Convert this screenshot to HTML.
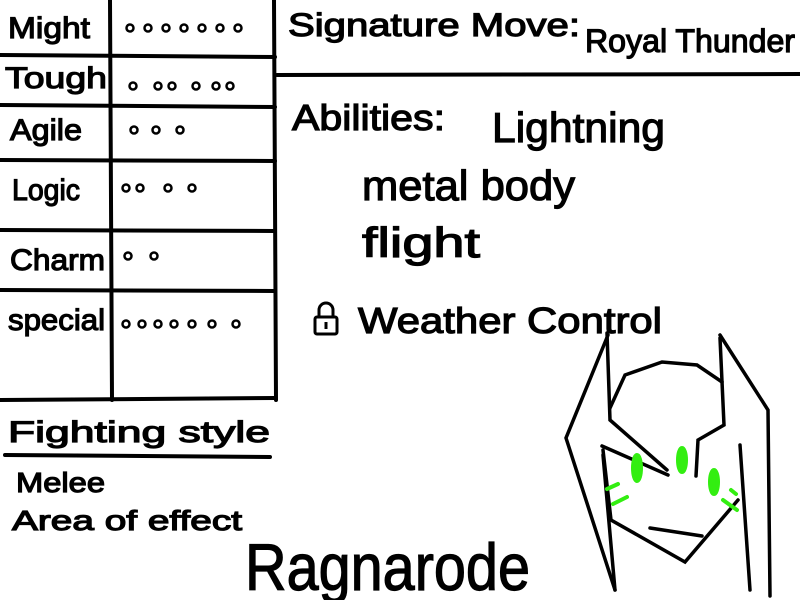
<!DOCTYPE html>
<html><head><style>
html,body{margin:0;padding:0;background:#fff;width:800px;height:600px;overflow:hidden}
svg{display:block}
text{font-family:"Liberation Sans",sans-serif;fill:#000;stroke:#000;stroke-width:1.2}
</style></head><body>
<svg width="800" height="600" viewBox="0 0 800 600" xmlns="http://www.w3.org/2000/svg">
<g stroke="#000" stroke-width="4" fill="none" stroke-linecap="round">
<line x1="110" y1="0" x2="112" y2="400"/>
<line x1="274" y1="0" x2="276" y2="400"/>
<line x1="0" y1="55" x2="275" y2="57"/>
<line x1="0" y1="105" x2="275" y2="107"/>
<line x1="0" y1="160" x2="275" y2="161"/>
<line x1="0" y1="230" x2="275" y2="231"/>
<line x1="0" y1="290" x2="275" y2="291"/>
<line x1="0" y1="400" x2="275" y2="398"/>
<line x1="277" y1="75" x2="800" y2="74"/>
<line x1="5" y1="455" x2="270" y2="457"/>
<g stroke-width="3.5">
<path d="M608 335 L566 438 L615 590"/>
<path d="M607 333 L610 420 L667 470"/>
<path d="M610 408 L625 375 L662 362 L697 365 L722 382"/>
<path d="M720 338 L724 425 L698 440 L696 476"/>
<path d="M720 335 L768 410 L770 596"/>
<path d="M602 446 L668 475"/>
<path d="M603 450 L611 520 L685 562 L738 500"/>
<path d="M740 445 L750 590"/>
<path d="M603 455 L615 590"/>
<path d="M650 528 L702 536"/>
</g>
</g>
<g fill="#33ee11" stroke="#33ee11" stroke-width="4" stroke-linecap="round">
<ellipse cx="682" cy="460" rx="4" ry="12"/>
<ellipse cx="637" cy="468" rx="4" ry="13"/>
<ellipse cx="714" cy="482" rx="4" ry="12"/>
<line x1="607" y1="489" x2="618" y2="484"/>
<line x1="613" y1="504" x2="627" y2="497"/>
<line x1="723" y1="500" x2="737" y2="510"/>
<line x1="731" y1="490" x2="736" y2="494"/>
</g>
<g font-size="30" lengthAdjust="spacingAndGlyphs">
<text x="8" y="38" textLength="82" lengthAdjust="spacingAndGlyphs">Might</text>
<text x="5" y="88" textLength="102" lengthAdjust="spacingAndGlyphs">Tough</text>
<text x="10" y="140" textLength="72" lengthAdjust="spacingAndGlyphs">Agile</text>
<text x="12" y="200" textLength="68" lengthAdjust="spacingAndGlyphs">Logic</text>
<text x="10" y="270" textLength="95" lengthAdjust="spacingAndGlyphs">Charm</text>
<text x="8" y="330" textLength="97" lengthAdjust="spacingAndGlyphs">special</text>
</g>
<g fill="none" stroke="#000" stroke-width="2.5">
<circle cx="130" cy="28" r="3.5"/><circle cx="148" cy="28" r="3.5"/><circle cx="166" cy="28" r="3.5"/><circle cx="184" cy="28" r="3.5"/><circle cx="202" cy="28" r="3.5"/><circle cx="220" cy="28" r="3.5"/><circle cx="238" cy="28" r="3.5"/>
<circle cx="133" cy="86" r="3.5"/><circle cx="158" cy="86" r="3.5"/><circle cx="172" cy="86" r="3.5"/><circle cx="196" cy="86" r="3.5"/><circle cx="216" cy="86" r="3.5"/><circle cx="230" cy="86" r="3.5"/>
<circle cx="134" cy="130" r="3.5"/><circle cx="156" cy="130" r="3.5"/><circle cx="180" cy="130" r="3.5"/>
<circle cx="126" cy="188" r="3.5"/><circle cx="140" cy="188" r="3.5"/><circle cx="168" cy="188" r="3.5"/><circle cx="192" cy="188" r="3.5"/>
<circle cx="128" cy="256" r="3.5"/><circle cx="154" cy="256" r="3.5"/>
<circle cx="126" cy="324" r="3.5"/><circle cx="142" cy="324" r="3.5"/><circle cx="158" cy="324" r="3.5"/><circle cx="174" cy="324" r="3.5"/><circle cx="192" cy="324" r="3.5"/><circle cx="212" cy="324" r="3.5"/><circle cx="236" cy="324" r="3.5"/>
</g>
<text x="8" y="442" font-size="30" textLength="262" lengthAdjust="spacingAndGlyphs">Fighting   style</text>
<text x="16" y="492" font-size="28" textLength="89" lengthAdjust="spacingAndGlyphs">Melee</text>
<text x="12" y="530" font-size="28" textLength="230" lengthAdjust="spacingAndGlyphs">Area of effect</text>
<text x="245" y="590" font-size="66" textLength="285" lengthAdjust="spacingAndGlyphs" stroke-width="2">Ragnarode</text>
<text x="288" y="36" font-size="32" textLength="292" lengthAdjust="spacingAndGlyphs">Signature Move:</text>
<text x="585" y="52" font-size="32" textLength="210" lengthAdjust="spacingAndGlyphs">Royal Thunder</text>
<text x="292" y="130" font-size="36" textLength="153" lengthAdjust="spacingAndGlyphs">Abilities:</text>
<text x="492" y="142" font-size="42" textLength="173" lengthAdjust="spacingAndGlyphs" stroke-width="1.8">Lightning</text>
<text x="362" y="200" font-size="42" textLength="213" lengthAdjust="spacingAndGlyphs" stroke-width="1.8">metal body</text>
<text x="362" y="257" font-size="42" textLength="118" lengthAdjust="spacingAndGlyphs" stroke-width="1.8">flight</text>
<text x="358" y="333" font-size="36" textLength="304" lengthAdjust="spacingAndGlyphs" stroke-width="1.6">Weather Control</text>
<g stroke="#000" stroke-width="3" fill="none">
<rect x="315" y="317" width="22" height="17" rx="2"/>
<path d="M319 317 V310 a7 7 0 0 1 14 0 V317"/>
<line x1="326" y1="322" x2="326" y2="329"/>
</g>
</svg>
</body></html>
